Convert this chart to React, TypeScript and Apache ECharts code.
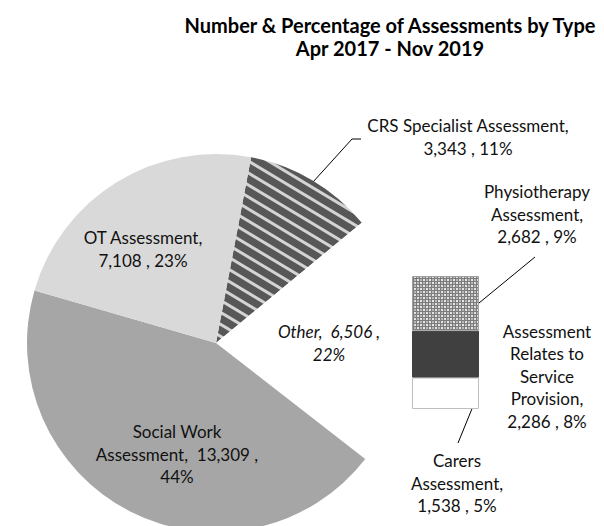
import React, { useEffect, useRef } from "react";
import * as echarts from "echarts";

const titleLines = ["Number & Percentage of Assessments by Type", "Apr 2017 - Nov 2019"];

// Pie slices (clockwise from CRS)
const pieNames = ["CRS Specialist Assessment", "Other", "Social Work Assessment", "OT Assessment"];
const pieValues = [3343, 6506, 13309, 7108];
const piePercents = [11, 22, 44, 23];

// Bar (breakdown of "Other"), bottom to top
const barNames = ["Carers Assessment", "Assessment Relates to Service Provision", "Physiotherapy Assessment"];
const barValues = [1538, 2286, 2682];
const barPercents = [5, 8, 9];

const FONT = "Lato, 'Open Sans', sans-serif";
const fmt = (v: number) => v.toLocaleString("en-US");

// label line breaking (layout only)
const pieLabelText = (i: number) => {
  const v = fmt(pieValues[i]);
  const p = piePercents[i] + "%";
  switch (i) {
    case 0: return `CRS Specialist Assessment,\n${v} , ${p}`;
    case 1: return `Other,  ${v} ,\n${p}`;
    case 2: return `Social Work\nAssessment,  ${v} ,\n${p}`;
    default: return `OT Assessment,\n${v} , ${p}`;
  }
};
const barLabelText = (i: number) => {
  const v = fmt(barValues[i]);
  const p = barPercents[i] + "%";
  switch (i) {
    case 0: return `Carers\nAssessment,\n${v} , ${p}`;
    case 1: return `Assessment\nRelates to\nService\nProvision,\n${v} , ${p}`;
    default: return `Physiotherapy\nAssessment,\n${v} , ${p}`;
  }
};

const pieLabelPos = [
  { x: 468, y: 137 },
  { x: 329, y: 343 },
  { x: 177, y: 454 },
  { x: 143, y: 249 },
];
const barLabelPos = [
  { x: 457, y: 483 },
  { x: 547, y: 376 },
  { x: 537, y: 214 },
];

function stripePattern() {
  const W = 20, H = 12;
  const c = document.createElement("canvas");
  c.width = W; c.height = H;
  const g = c.getContext("2d")!;
  g.fillStyle = "#575757";
  g.fillRect(0, 0, W, H);
  g.strokeStyle = "#d4d4d4";
  g.lineWidth = 3;
  for (let k = -3; k <= 3; k++) {
    g.beginPath();
    g.moveTo(-40, -24 + k * H);
    g.lineTo(60, 36 + k * H);
    g.stroke();
  }
  return { image: c, repeat: "repeat", imageWidth: W, imageHeight: H } as any;
}

function crossPattern() {
  const S = 6;
  const c = document.createElement("canvas");
  c.width = S; c.height = S;
  const g = c.getContext("2d")!;
  g.fillStyle = "#7c7c7c";
  g.fillRect(0, 0, S, S);
  g.fillStyle = "#e4e4e4";
  g.fillRect(0, 0, 2, 2);
  g.fillRect(3, 3, 2, 2);
  g.fillStyle = "#b8b8b8";
  g.fillRect(3, 0, 2, 2);
  g.fillRect(0, 3, 2, 2);
  return { image: c, repeat: "repeat", imageWidth: S, imageHeight: S } as any;
}

export default function App() {
  const ref = useRef<HTMLDivElement>(null);
  useEffect(() => {
    if (!ref.current) return;
    const chart = echarts.init(ref.current, null, { renderer: "svg" });
    const pieColors = [stripePattern(), "#ffffff", "#a6a6a6", "#d9d9d9"];
    const barColors = ["#ffffff", "#404040", crossPattern()];
    const barTotal = barValues.reduce((a, b) => a + b, 0);

    const labelStyle = {
      fontFamily: FONT,
      fontSize: 17,
      color: "#111",
      lineHeight: 22.5,
      align: "center",
    };

    chart.setOption({
      animation: false,
      graphic: [
        {
          type: "text",
          x: 390,
          y: 36,
          style: {
            text: titleLines.join("\n"),
            textAlign: "center",
            textVerticalAlign: "middle",
            fontFamily: FONT,
            fontWeight: "bold",
            fontSize: 20,
            lineHeight: 23,
            fill: "#000",
          },
        },
        { type: "polyline", shape: { points: [[313, 182], [352, 139], [361, 139]] }, style: { stroke: "#000", lineWidth: 1, fill: null } },
        { type: "line", shape: { x1: 535, y1: 257, x2: 479, y2: 303 }, style: { stroke: "#000", lineWidth: 1 } },
        { type: "line", shape: { x1: 458, y1: 443, x2: 478, y2: 394 }, style: { stroke: "#000", lineWidth: 1 } },
      ],
      grid: { left: 412, top: 276, width: 67, height: 133, containLabel: false },
      xAxis: { type: "category", data: ["Other"], show: false },
      yAxis: { type: "value", min: 0, max: barTotal, show: false },
      series: [
        {
          type: "pie",
          silent: true,
          center: [216, 343],
          radius: 189,
          startAngle: 79.3,
          clockwise: true,
          avoidLabelOverlap: false,
          data: pieNames.map((n, i) => ({
            name: n,
            value: pieValues[i],
            itemStyle: { color: pieColors[i] },
            label: i === 1 ? { fontStyle: "italic" } : undefined,
          })),
          itemStyle: { borderWidth: 0 },
          label: {
            show: true,
            position: "inside",
            formatter: (p: any) => pieLabelText(p.dataIndex),
            ...labelStyle,
          },
          labelLine: { show: false },
          labelLayout: (p: any) => {
            const q = pieLabelPos[p.dataIndex];
            return { x: q.x, y: q.y, align: "center", verticalAlign: "middle" };
          },
          emphasis: { disabled: true },
        },
        ...barNames.map((n, i) => ({
          type: "bar",
          name: n,
          stack: "other",
          silent: true,
          barWidth: "100%",
          data: [barValues[i]],
          itemStyle: {
            color: barColors[i],
            borderColor: i === 0 ? "#bfbfbf" : i === 2 ? "#a0a0a0" : "#404040",
            borderWidth: 1,
          },
          label: {
            show: true,
            position: "inside",
            formatter: () => barLabelText(i),
            ...labelStyle,
          },
          labelLayout: () => {
            const q = barLabelPos[i];
            return { x: q.x, y: q.y, align: "center", verticalAlign: "middle" };
          },
          emphasis: { disabled: true },
        })),
      ],
    });
    return () => chart.dispose();
  }, []);
  return (
    <div
      ref={ref}
      style={{ position: "fixed", left: 0, top: 0, width: 604, height: 526, background: "#fff" }}
    />
  );
}
